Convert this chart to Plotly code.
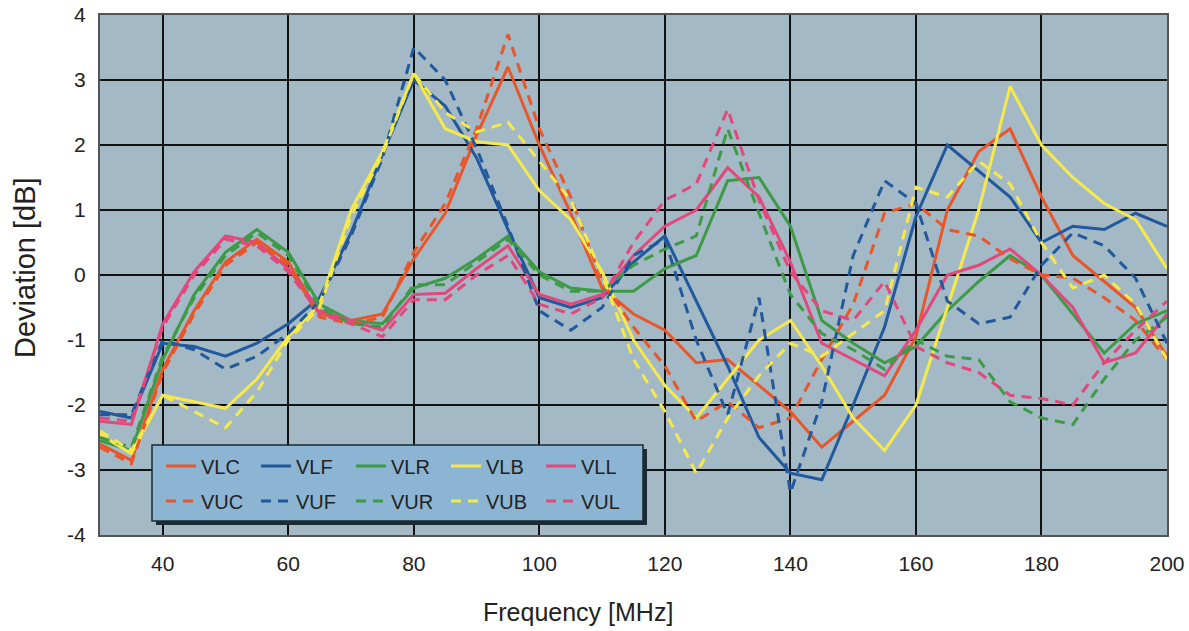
import plotly.graph_objects as go

freq = [30, 35, 40, 45, 50, 55, 60, 65, 70, 75, 80, 85, 90, 95, 100, 105, 110, 115,
        120, 125, 130, 135, 140, 145, 150, 155, 160, 165, 170, 175, 180, 185, 190, 195, 200]

VLC = [-2.6, -2.85, -1.45, -0.55, 0.2, 0.55, 0.2, -0.6, -0.7, -0.6, 0.25, 0.95, 2.15, 3.2, 2.0, 0.95, -0.2, -0.6,
       -0.85, -1.35, -1.3, -1.7, -2.1, -2.65, -2.25, -1.85, -0.95, 1.0, 1.9, 2.25, 1.2, 0.3, -0.1, -0.5, -1.25]
VUC = [-2.65, -2.9, -1.5, -0.6, 0.15, 0.5, 0.15, -0.65, -0.75, -0.65, 0.35, 1.1, 2.25, 3.7, 2.25, 1.2, -0.1, -0.8,
       -1.4, -2.25, -1.95, -2.35, -2.2, -1.3, -0.45, 0.95, 1.1, 0.7, 0.6, 0.25, 0.0, -0.05, -0.35, -0.7, -1.3]
VLF = [-2.1, -2.2, -1.05, -1.1, -1.25, -1.05, -0.75, -0.35, 0.65, 1.85, 3.0, 2.6, 1.8, 0.7, -0.35, -0.5, -0.35, 0.2,
       0.6, -0.4, -1.4, -2.5, -3.05, -3.15, -2.0, -0.8, 0.9, 2.0, 1.6, 1.2, 0.5, 0.75, 0.7, 0.95, 0.75]
VUF = [-2.15, -2.15, -1.0, -1.15, -1.45, -1.25, -0.9, -0.4, 0.6, 1.8, 3.5, 3.0, 1.95, 0.75, -0.55, -0.85, -0.5, 0.3,
       0.55, -1.0, -2.15, -0.35, -3.35, -1.95, 0.3, 1.45, 1.1, -0.4, -0.75, -0.65, 0.15, 0.65, 0.45, -0.05, -1.05]
VLR = [-2.55, -2.7, -1.3, -0.3, 0.35, 0.7, 0.35, -0.45, -0.7, -0.75, -0.2, -0.05, 0.25, 0.6, 0.05, -0.2, -0.25, -0.25,
       0.1, 0.3, 1.45, 1.5, 0.75, -0.7, -1.05, -1.35, -1.1, -0.55, -0.1, 0.3, 0.0, -0.6, -1.2, -0.75, -0.55]
VUR = [-2.5, -2.65, -1.25, -0.35, 0.3, 0.65, 0.3, -0.5, -0.75, -0.8, -0.15, -0.15, 0.2, 0.55, 0.0, -0.25, -0.25, 0.15,
       0.4, 0.6, 2.25, 0.95, -0.3, -0.9, -1.15, -1.45, -1.0, -1.25, -1.3, -1.95, -2.2, -2.3, -1.6, -1.0, -0.65]
VLB = [-2.45, -2.75, -1.85, -1.95, -2.05, -1.6, -0.95, -0.45, 1.0, 1.9, 3.1, 2.25, 2.05, 2.0, 1.3, 0.85, 0.05, -1.0,
       -1.7, -2.2, -1.6, -1.0, -0.7, -1.4, -2.2, -2.7, -2.0, -0.5, 1.0, 2.9, 2.0, 1.5, 1.1, 0.85, 0.1]
VUB = [-2.4, -2.7, -1.85, -2.1, -2.35, -1.8, -1.0, -0.5, 0.9, 1.85, 3.1, 2.5, 2.2, 2.35, 1.75, 1.15, 0.0, -1.3,
       -2.1, -3.05, -2.2, -1.55, -1.05, -1.25, -0.9, -0.55, 1.35, 1.2, 1.75, 1.4, 0.5, -0.2, 0.0, -0.45, -1.3]
VLL = [-2.25, -2.3, -0.75, 0.05, 0.6, 0.5, 0.1, -0.55, -0.7, -0.85, -0.3, -0.28, 0.1, 0.45, -0.3, -0.45, -0.3, 0.3,
       0.75, 1.0, 1.65, 1.2, 0.2, -1.05, -1.3, -1.55, -0.85, 0.0, 0.15, 0.4, 0.0, -0.5, -1.35, -1.2, -0.6]
VUL = [-2.2, -2.25, -0.8, 0.0, 0.55, 0.45, 0.05, -0.6, -0.75, -0.95, -0.38, -0.38, 0.0, 0.3, -0.45, -0.6, -0.35, 0.5,
       1.15, 1.4, 2.55, 1.15, 0.05, -0.55, -0.7, -0.1, -1.1, -1.35, -1.5, -1.85, -1.9, -2.0, -1.35, -0.85, -0.4]

x_ticks = [40, 60, 80, 100, 120, 140, 160, 180, 200]
x_labels = ["40", "60", "80", "100", "120", "140", "160", "180", "200"]
y_ticks = [-4, -3, -2, -1, 0, 1, 2, 3, 4]
x_title = "Frequency [MHz]"
y_title = "Deviation [dB]"

ORANGE = "#e8562a"
BLUE = "#22589c"
GREEN = "#3f9a47"
YELLOW = "#f6e94c"
PINK = "#e2487c"

lower = [("VLC", VLC, ORANGE), ("VLF", VLF, BLUE), ("VLR", VLR, GREEN), ("VLB", VLB, YELLOW), ("VLL", VLL, PINK)]
upper = [("VUC", VUC, ORANGE), ("VUF", VUF, BLUE), ("VUR", VUR, GREEN), ("VUB", VUB, YELLOW), ("VUL", VUL, PINK)]

fig = go.Figure()
for name, vals, col in lower:
    fig.add_trace(go.Scatter(x=freq, y=vals, mode="lines", name=name,
                             line=dict(color=col, width=3), legend="legend"))
for name, vals, col in upper:
    fig.add_trace(go.Scatter(x=freq, y=vals, mode="lines", name=name,
                             line=dict(color=col, width=3, dash="10px,7px"), legend="legend2"))

W, H = 1189, 631
L, R, T, B = 100, 22, 15, 96
pw, ph = W - L - R, H - T - B

def px(xp):
    return (xp - L) / pw

def py(yp):
    return (H - B - yp) / ph

# legend box shadow and box
fig.add_shape(type="rect", xref="paper", yref="paper", layer="above",
              x0=px(156), x1=px(647), y0=py(525), y1=py(449),
              fillcolor="#1c2a33", line=dict(width=0))
fig.add_shape(type="rect", xref="paper", yref="paper", layer="above",
              x0=px(152), x1=px(643), y0=py(521), y1=py(445),
              fillcolor="#8bb5d3", line=dict(color="#1c2a33", width=1.5))

FONT = "Liberation Sans, Arial, sans-serif"
legend_font = dict(family=FONT, size=20, color="#222222")
common_leg = dict(orientation="h", xanchor="left", yanchor="middle", bgcolor="rgba(0,0,0,0)",
                  borderwidth=0, entrywidth=50, entrywidthmode="pixels", font=legend_font,
                  itemwidth=30, tracegroupgap=0)

# axis titles placed as annotations (the x title sits left of the plot centre in the reference)
fig.add_annotation(text=x_title, xref="paper", yref="paper", x=px(578), y=py(612),
                   xanchor="center", yanchor="middle", showarrow=False,
                   font=dict(family=FONT, size=25, color="#222222"))
fig.add_annotation(text=y_title, xref="paper", yref="paper", x=px(25), y=py(268),
                   xanchor="center", yanchor="middle", showarrow=False, textangle=-90,
                   font=dict(family=FONT, size=29, color="#222222"))

fig.update_layout(
    template="none",
    width=W, height=H,
    margin=dict(l=L, r=R, t=T, b=B, autoexpand=False),
    paper_bgcolor="white",
    plot_bgcolor="#a3bac6",
    showlegend=True,
    legend=dict(x=px(161), y=py(466), **common_leg),
    legend2=dict(x=px(161), y=py(501), **common_leg),
    xaxis=dict(range=[30, 200], tickvals=x_ticks, ticktext=x_labels,
               automargin=False,
               showgrid=True, gridcolor="#111111", gridwidth=1.6,
               showline=True, linecolor="#555555", linewidth=2, mirror=True,
               zeroline=False, ticks="", ticklabelstandoff=9,
               tickfont=dict(family=FONT, size=21, color="#222222")),
    yaxis=dict(range=[-4, 4], tickvals=y_ticks, ticktext=[str(v) for v in y_ticks],
               automargin=False,
               showgrid=True, gridcolor="#111111", gridwidth=1.6,
               showline=True, linecolor="#555555", linewidth=2, mirror=True,
               zeroline=False, ticks="", ticklabelstandoff=8,
               tickfont=dict(family=FONT, size=21, color="#222222")),
)

fig.write_html("out.html", config={"displayModeBar": False},
               post_script="document.body.style.margin='0';document.body.style.overflow='hidden';")
